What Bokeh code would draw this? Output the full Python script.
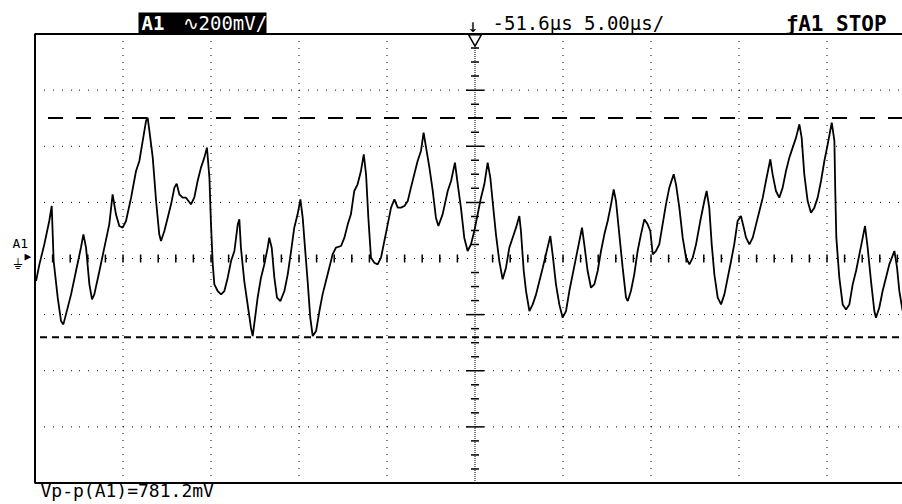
import math
from bokeh.plotting import figure
from bokeh.models import Range1d, Label
from bokeh.embed import file_html
from bokeh.resources import INLINE

# ---------------- data (read from the screen) ----------------
# time in µs from the left edge of the screen (5 µs/div), voltage in mV (200 mV/div)
t_a = [0.06, 0.25, 0.53, 0.81, 0.95, 1.06, 1.29, 1.48, 1.61, 1.76, 2.05, 2.33, 2.61, 2.75, 2.90,
       3.09, 3.24, 3.37, 3.66, 3.94, 4.22, 4.41, 4.60, 4.79, 4.98, 5.17, 5.46, 5.74, 5.93, 6.12,
       6.31, 6.40, 6.50, 6.69, 6.88, 7.06, 7.16, 7.35, 7.54, 7.73, 7.92, 8.05, 8.20, 8.39, 8.58,
       8.86, 9.05, 9.24, 9.43, 9.62, 9.77, 9.91, 10.00, 10.10, 10.19, 10.38, 10.57, 10.76, 10.95,
       11.14, 11.33, 11.52, 11.61, 11.70, 11.89, 12.08, 12.27, 12.37]
v_a = [-80.3, -20.9, 50.4, 133.6, 187.1, -9.0, -139.7, -222.9, -234.8, -199.1, -127.8, -44.6, 38.6,
       86.1, 38.6, -92.2, -145.7, -127.8, -44.6, 38.6, 121.7, 228.7, 157.4, 115.8, 109.9, 133.6,
       216.8, 311.9, 347.5, 418.8, 490.1, 502.0, 454.5, 359.4, 204.9, 86.1, 62.3, 98.0, 145.5,
       193.0, 252.5, 266.7, 228.7, 216.8, 216.8, 193.0, 216.8, 276.2, 323.8, 359.4, 395.1, 288.1,
       121.7, -20.9, -92.2, -115.9, -127.8, -115.9, -68.4, -9.0, 26.7, 121.7, 139.6, 38.6, -80.3,
       -163.5, -246.7, -276.4]

t_b = [12.65, 12.84, 13.03, 13.22, 13.31, 13.45, 13.60, 13.75, 13.94, 14.17, 14.36, 14.55, 14.73,
       14.92, 15.08, 15.21, 15.34, 15.49, 15.64, 15.78, 15.97, 16.16, 16.34, 16.53, 16.72, 16.91,
       17.10, 17.39, 17.58, 17.77, 17.95, 18.14, 18.33, 18.52, 18.68, 18.81, 18.94, 19.09, 19.28,
       19.47, 19.66, 19.85, 20.04, 20.23, 20.42, 20.61, 20.80, 20.99, 21.18, 21.36, 21.55, 21.74,
       21.93, 22.08, 22.22, 22.41, 22.60, 22.78, 22.92, 23.16, 23.45, 23.64, 23.86, 24.02, 24.20,
       24.39, 24.58, 24.77, 24.96, 25.15, 25.34]
v_b = [-139.7, -68.4, -20.9, 38.6, 74.2, 38.6, -68.4, -139.7, -151.6, -115.9, -56.5, 26.7, 109.9,
       157.4, 210.9, 145.5, 38.6, -80.3, -211.0, -276.4, -258.5, -187.2, -127.8, -80.3, -32.8,
       14.8, 38.6, 44.5, 74.2, 121.7, 157.4, 240.6, 264.3, 311.9, 371.3, 300.0, 145.5, 2.9, -14.9,
       -20.9, 2.9, 62.3, 121.7, 181.2, 210.9, 181.2, 181.2, 187.1, 204.9, 252.5, 300.0, 347.5,
       383.2, 448.5, 395.1, 323.8, 240.6, 145.5, 115.8, 157.4, 240.6, 276.2, 341.6, 264.3, 181.2,
       74.2, 26.7, 50.4, 98.0, 157.4, 216.8]

t_c = [25.53, 25.72, 25.87, 26.00, 26.19, 26.38, 26.57, 26.76, 26.95, 27.14, 27.33, 27.52, 27.61,
       27.77, 27.90, 28.09, 28.28, 28.47, 28.66, 28.85, 29.03, 29.28, 29.41, 29.60, 29.79, 29.98,
       30.17, 30.36, 30.55, 30.74, 30.93, 31.08, 31.21, 31.40, 31.59, 31.78, 31.97, 32.16, 32.35,
       32.54, 32.73, 32.88, 33.01, 33.20, 33.39, 33.58, 33.68, 33.86, 34.05, 34.24, 34.43, 34.62,
       34.81, 34.96, 35.10, 35.28, 35.47, 35.66, 35.85, 36.04, 36.29, 36.42, 36.61, 36.80, 36.99,
       37.18, 37.37, 37.56, 37.80]
v_c = [264.3, 341.6, 288.1, 204.9, 86.1, -9.0, -74.3, -32.8, 38.6, 74.2, 109.9, 151.4, 98.0, -44.6,
       -115.9, -187.2, -163.5, -127.8, -80.3, -32.8, 14.8, 80.1, 14.8, -92.2, -163.5, -211.0,
       -187.2, -115.9, -56.5, 2.9, 62.3, 109.9, 50.4, -44.6, -104.1, -92.2, -44.6, 26.7, 86.1,
       133.6, 193.0, 246.5, 204.9, 86.1, -32.8, -139.7, -151.6, -115.9, -56.5, 26.7, 86.1, 139.6,
       121.7, 98.0, 14.8, 26.7, 50.4, 121.7, 193.0, 252.5, 300.0, 264.3, 181.2, 74.2, 2.9, -20.9,
       2.9, 50.4, 133.6]

t_d = [38.03, 38.16, 38.31, 38.45, 38.60, 38.79, 38.98, 39.17, 39.36, 39.55, 39.73, 39.92, 40.11,
       40.27, 40.40, 40.59, 40.78, 40.97, 41.16, 41.35, 41.53, 41.78, 41.91, 42.10, 42.29, 42.48,
       42.67, 42.86, 43.05, 43.24, 43.43, 43.56, 43.71, 43.90, 44.09, 44.28, 44.47, 44.66, 44.85,
       45.04, 45.27, 45.42, 45.47, 45.53, 45.70, 45.89, 46.08, 46.27, 46.46, 46.65, 46.84, 47.03,
       47.16, 47.31, 47.50, 47.69, 47.78, 47.97, 48.16, 48.35, 48.54, 48.83, 48.98, 49.11, 49.30]
v_d = [204.9, 240.6, 181.2, 50.4, -56.5, -139.7, -163.5, -127.8, -68.4, -9.0, 50.4, 133.6, 151.4,
       109.9, 74.2, 50.4, 74.2, 121.7, 169.3, 216.8, 276.2, 353.5, 300.0, 240.6, 216.8, 252.5,
       311.9, 359.4, 395.1, 430.7, 478.3, 430.7, 300.0, 204.9, 163.3, 181.2, 216.8, 276.2, 347.5,
       407.0, 484.2, 418.8, 240.6, 74.2, -68.4, -163.5, -181.3, -163.5, -92.2, -44.6, 14.8, 74.2,
       115.8, 38.6, -80.3, -187.2, -211.0, -175.4, -115.9, -68.4, -20.9, 26.7, -32.8, -115.9,
       -187.2]

cursor_top_mv = 501.0
cursor_bottom_mv = -280.2
trigger_ref_us = [25.0]

vdiv_mv = 200.0
tdiv_us = 5.0
grid_v_mv = [-600, -400, -200, 200, 400, 600]
grid_t_us = [5, 10, 15, 20, 30, 35, 40, 45]

header_chan = "A1"
header_scale = "\u223f200mV/"
header_time = "-51.6\u00b5s 5.00\u00b5s/"
header_trig = "\u0192A1  STOP"
footer_meas = "Vp-p(A1)=781.2mV"

t_us = t_a + t_b + t_c + t_d
v_mv = v_a + v_b + v_c + v_d
assert len(t_us) == len(v_mv)

# ---------------- layout ----------------
W, H = 902, 504                 # the page has no margin: the canvas fills the window
GX0, GY_TOP, GY_BOT = 34.5, 33.5, 482.5   # graticule edges on the page (px)
PX_PER_US = 88.0 / tdiv_us
MV_PER_PX = 8 * vdiv_mv / (GY_BOT - GY_TOP)
GY_MID = (GY_TOP + GY_BOT) / 2
FONT = "DejaVu Sans Mono"
ROW_DOTS = "1 8 1 8 1 8 1 8 1 7"   # one dot every 8.8 px
BASE_FIX = 6                      # measured offset of Bokeh's alphabetic baseline


def tx(px):  # page x -> µs
    return (px - GX0) / PX_PER_US


def ty(py):  # page y -> mV
    return (GY_MID - py) * MV_PER_PX


T_END = tx(W)
V_TOP = 4 * vdiv_mv
V_BOT = -4 * vdiv_mv

p = figure(width=W, height=H, output_backend="svg", toolbar_location=None,
           x_range=Range1d(tx(0), tx(W)), y_range=Range1d(ty(H), ty(0)),
           min_border=0, x_axis_location=None, y_axis_location=None)
p.outline_line_color = None
p.background_fill_color = "white"
p.border_fill_color = "white"
p.xgrid.visible = False
p.ygrid.visible = False

# graticule
p.segment(x0=grid_t_us, y0=[V_BOT] * len(grid_t_us), x1=grid_t_us, y1=[V_TOP] * len(grid_t_us),
          line_color="black", line_width=1, line_dash="1 6")
p.segment(x0=[0] * len(grid_v_mv), y0=grid_v_mv, x1=[T_END] * len(grid_v_mv), y1=grid_v_mv,
          line_color="black", line_width=1, line_dash=ROW_DOTS)
center_t = trigger_ref_us[0]
p.segment(x0=[center_t], y0=[V_BOT], x1=[center_t], y1=[V_TOP],
          line_color="black", line_width=1, line_dash="1 1")
p.segment(x0=[0], y0=[0], x1=[T_END], y1=[0],
          line_color="black", line_width=1, line_dash=ROW_DOTS)

minor_v = [k * vdiv_mv / 4 for k in range(-15, 16) if k % 4 != 0]
major_v = [k * vdiv_mv for k in (-3, -2, -1, 1, 2, 3)]
p.scatter(x=[center_t] * len(minor_v), y=minor_v, marker="dash", size=8,
          line_color="black", line_width=1.5)
p.scatter(x=[center_t] * len(major_v), y=major_v, marker="dash", size=18,
          line_color="black", line_width=1.5)
minor_t = [k * tdiv_us / 5 for k in range(1, 50) if k != 25]
p.scatter(x=minor_t, y=[0] * len(minor_t), marker="dash", angle=math.pi / 2, size=8,
          line_color="black", line_width=1.5)

# screen border (left, top, bottom; the right edge is off the window)
p.line(x=[T_END, 0, 0, T_END], y=[V_TOP, V_TOP, V_BOT, V_BOT], line_color="black",
       line_width=2)

# cursors
p.segment(x0=[0], y0=[cursor_top_mv], x1=[T_END], y1=[cursor_top_mv], line_color="black",
          line_dash="15 13", line_dash_offset=15, line_width=2)
p.segment(x0=[0], y0=[cursor_bottom_mv], x1=[T_END], y1=[cursor_bottom_mv], line_color="black",
          line_dash="7 5", line_dash_offset=7, line_width=2)

# trace
p.line(t_us, v_mv, line_color="black", line_width=1.8)

# trigger reference marker
p.scatter(x=trigger_ref_us, y=[ty(38)], marker="inverted_triangle", size=13,
          fill_color="white", line_color="black", line_width=1.5)

# inverse-video box behind the channel header
p.quad(left=[tx(138)], right=[tx(266)], top=[ty(12)], bottom=[ty(32.5)],
       fill_color="black", line_color=None)


# texts
def lab(text, px, py, size, bold=False, color="black"):
    p.add_layout(Label(x=tx(px), y=ty(py - BASE_FIX), text=text, text_font=FONT,
                       text_font_size=size, text_font_style="bold" if bold else "normal",
                       text_color=color, text_baseline="alphabetic", text_align="left"))


lab(header_chan, 141, 28, "19px", bold=True, color="white")
lab(header_scale, 182, 28, "19px", color="white")
lab("\u2193", 467, 31, "18px")
lab(header_time, 492, 28, "19px")
lab(header_trig, 785, 29, "21px", bold=True)
lab(footer_meas, 40, 496, "18px")
lab("A1", 12, 249, "13px")
lab("\u23da", 12, 269, "14px")
lab("\u25b6", 24, 262, "11px")

open("out.html", "w").write(file_html(p, INLINE))
